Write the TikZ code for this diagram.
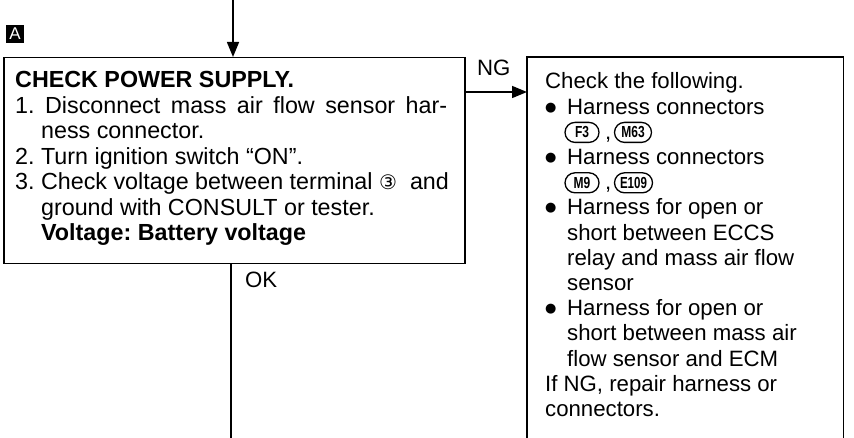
\documentclass[tikz,border=0pt]{standalone}
\usepackage{fontspec}
\setmainfont{Liberation Sans}
\newfontfamily\dejavu{DejaVu Sans}
\usepackage{graphicx}
\usetikzlibrary{arrows.meta}
\frenchspacing
\newcommand\bul{\makebox[22pt][l]{\raisebox{3pt}{\dejavu\fontsize{13}{13}\selectfont ●}}}
\newcommand\ind{\hspace*{22pt}}
\begin{document}
\begin{tikzpicture}[x=1pt,y=-1pt,
  txt/.style={anchor=base west, inner sep=0pt, font=\fontsize{22.2}{25}\selectfont},
  ltxt/.style={anchor=base west, inner sep=0pt, font=\fontsize{23.3}{25}\selectfont},
  frame/.style={line width=1.5pt},
  tag/.style={draw, line width=1.3pt, rounded corners=10pt, minimum height=20pt, inner sep=0pt, font=\fontsize{16}{16}\selectfont\bfseries},
  arr/.style={line width=1.5pt, -{Triangle[width=12pt,length=15pt]}}]
\useasboundingbox (0,0) rectangle (854,438);

% marker
\node[fill=black, text=white, minimum size=18pt, inner sep=0pt, font=\fontsize{17}{17}\selectfont] (mark) at (15,34) {A};

% left box
\node[draw, frame, minimum width=461pt, minimum height=206pt, anchor=north west, inner sep=0pt] (check) at (3,57) {};
% right box frame (open at bottom)
\node[minimum width=316pt, minimum height=381pt, anchor=north west, inner sep=0pt] (ngbox) at (527,57) {};
\draw[frame] (ngbox.south west) -- (ngbox.north west) -- (ngbox.north east) -- (ngbox.south east);

% connectors
\coordinate (topin) at (233,0);
\draw[arr] (topin) -- (topin |- check.north);
\draw[arr] (check.east |- 0,92) -- (ngbox.west |- 0,92);
\node[txt] (ng) at (477,76) {NG};
\coordinate (okend) at (231,438);
\draw[frame] (check.south -| okend) -- (okend);
\node[txt] (ok) at (245,288) {OK};

% left text
\node[ltxt] (l1) at (15,88) {\bfseries CHECK POWER SUPPLY.};
\node[ltxt] (l2) at (15,113.5) {\makebox[432pt][s]{1. Disconnect mass air flow sensor har-}};
\node[ltxt] (l3) at (15,139) {\hphantom{1.\ }ness connector.};
\node[ltxt] (l4) at (15,164.5) {2. Turn ignition switch “ON”.};
\node[ltxt] (l5) at (15,190) {3. Check voltage between terminal {\dejavu\fontsize{20}{20}\selectfont ③}\ \ and};
\node[ltxt] (l6) at (15,215.5) {\hphantom{3.\ }ground with CONSULT or tester.};
\node[ltxt] (l7) at (15,241) {\hphantom{3.\ }\bfseries Voltage: Battery voltage};

% right text
\node[txt] (r1) at (545,89) {Check the following.};
\node[txt] (r2) at (545,114.2) {\bul Harness connectors};
\node[tag, minimum width=34pt] (f3) at (582,132.4) {\scalebox{0.75}[1]{F3}};
\node[txt] (c1) at (605,139.4) {,};
\node[tag, minimum width=37pt] (m63) at (633,132.4) {\scalebox{0.75}[1]{M63}};
\node[txt] (r3) at (545,164.6) {\bul Harness connectors};
\node[tag, minimum width=34pt] (m9) at (582,182.8) {\scalebox{0.75}[1]{M9}};
\node[txt] (c2) at (605,189.8) {,};
\node[tag, minimum width=38pt] (e109) at (633.5,182.8) {\scalebox{0.72}[1]{E109}};
\node[txt] (r4) at (545,215) {\bul Harness for open or};
\node[txt] (r5) at (545,240.2) {\ind short between ECCS};
\node[txt] (r6) at (545,265.4) {\ind relay and mass air flow};
\node[txt] (r7) at (545,290.6) {\ind sensor};
\node[txt] (r8) at (545,315.8) {\bul Harness for open or};
\node[txt] (r9) at (545,341) {\ind short between mass air};
\node[txt] (r10) at (545,366.2) {\ind flow sensor and ECM};
\node[txt] (r11) at (545,391.4) {If NG, repair harness or};
\node[txt] (r12) at (545,416.6) {connectors.};
\end{tikzpicture}
\end{document}
